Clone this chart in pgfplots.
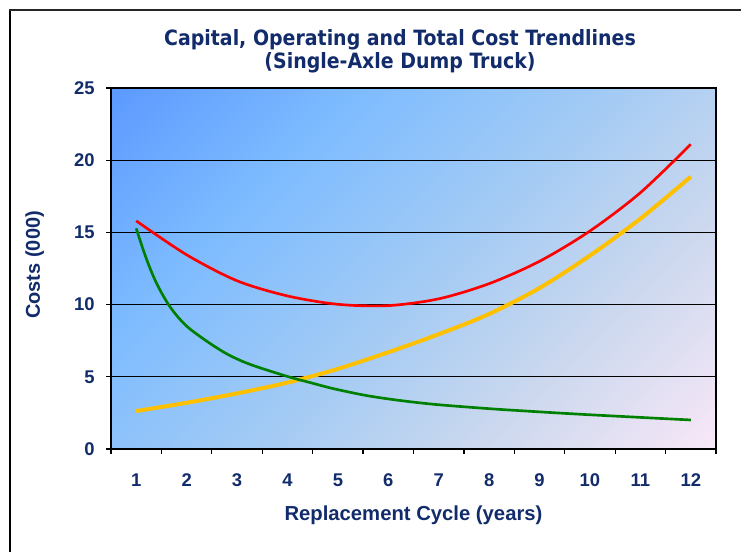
\documentclass[border=0pt]{standalone}
\usepackage{fontspec}
\setmainfont{Liberation Sans}
\newfontfamily\titlefont{DejaVu Sans Condensed}
\usepackage{pgfplots}
\pgfplotsset{compat=1.18}
\definecolor{navy}{HTML}{112B6B}
\definecolor{bgA}{HTML}{5B98FF}
\definecolor{bgB}{HTML}{7EBCFF}
\definecolor{bgC}{HTML}{A4CBF4}
\definecolor{bgD}{HTML}{CCD8EE}
\definecolor{bgE}{HTML}{FAE8F8}
\definecolor{cred}{HTML}{FF0000}
\definecolor{cgreen}{HTML}{008000}
\definecolor{cyellow}{HTML}{FFC000}
\pgfdeclarehorizontalshading{bgshade}{100bp}{color(0bp)=(bgA); color(14bp)=(bgA); color(33bp)=(bgB); color(52bp)=(bgC); color(68bp)=(bgD); color(86bp)=(bgE); color(100bp)=(bgE)}
\begin{document}
\begin{tikzpicture}[x=0.75pt,y=0.75pt]
\useasboundingbox (0,0) rectangle (741,552);
\draw[black, line width=1.5pt] (10,0) -- (10,542);
\draw[black!85, line width=1.5pt] (9.3,542) -- (741,542);
\node[font=\titlefont\bfseries\fontsize{15.8}{17.25}\selectfont, text=navy, align=center] at (400,500.5) {Capital, Operating and Total Cost Trendlines\\(Single-Axle Dump Truck)};
\begin{axis}[
  at={(83.25pt,77.25pt)}, anchor=south west,
  width=453.75pt, height=270.75pt, scale only axis,
  xmin=0.5, xmax=12.5, ymin=0, ymax=25,
  xtick={1,2,...,12},
  minor xtick={0.5,1.5,...,12.5},
  major x tick style={draw=none},
  ytick={0,5,...,25},
  ymajorgrids,
  grid style={black, line width=0.9pt},
  tick align=outside, xtick pos=bottom, ytick pos=left,
  major tick length=3.75pt, minor tick length=3.75pt,
  tick style={black, line width=0.9pt},
  axis line style={black, line width=1pt},
  axis background/.style={shade, shading=bgshade, shading angle=-45},
  /pgf/number format/assume math mode=true,
  tick label style={font=\bfseries\fontsize{13.8}{15}\selectfont, text=navy},
  xticklabel style={yshift=-11.5pt},
  yticklabel style={xshift=-5pt},
  xlabel={Replacement Cycle (years)},
  ylabel={Costs (000)},
  xlabel style={font=\bfseries\fontsize{15.2}{17}\selectfont, text=navy, at={(axis description cs:0.5,-0.184)}, anchor=center},
  ylabel style={font=\bfseries\fontsize{15}{17}\selectfont, text=navy, at={(axis description cs:-0.126,0.51)}, anchor=center},
  clip=true,
]
\addplot[cred, line width=2pt, smooth] coordinates {
(1,15.8) (2,13.45) (3,11.65) (4,10.6) (5,10.02) (6,9.93) (7,10.4) (8,11.45) (9,13.0) (10,15.1) (11,17.75) (12,21.1)
};
\addplot[cyellow, line width=3pt, smooth] coordinates {
(1,2.63) (2,3.2) (3,3.85) (4,4.6) (5,5.55) (6,6.7) (7,7.95) (8,9.35) (9,11.15) (10,13.4) (11,15.95) (12,18.86)
};
\addplot[cgreen, line width=2pt, smooth] coordinates {
(1,15.28) (1.14,13.78) (1.27,12.55) (1.4,11.5) (1.537,10.6) (1.67,9.85) (1.85,9.05) (2.07,8.3) (2.46,7.32) (2.79,6.6) (3.12,6.05) (3.45,5.63) (4.05,4.97) (4.45,4.6) (4.91,4.18) (5.57,3.7) (6.23,3.36) (6.89,3.1) (7.55,2.91) (8.22,2.74) (8.68,2.64) (9.34,2.5) (10,2.37) (10.66,2.25) (11.32,2.13) (12,2.01)
};
\end{axis}
\end{tikzpicture}
\end{document}
